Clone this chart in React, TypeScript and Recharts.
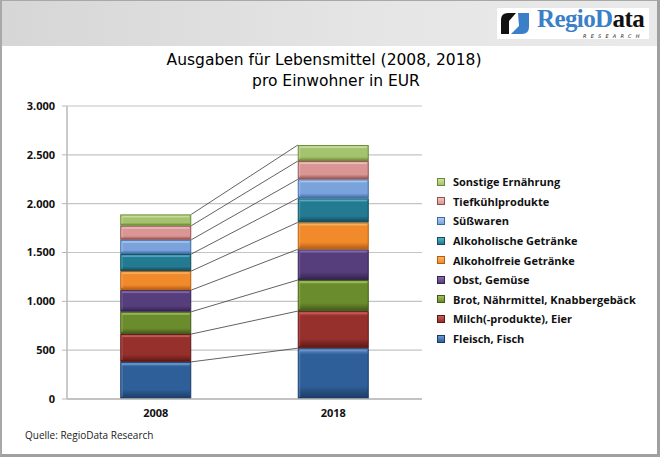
import React from 'react'
import { BarChart, Bar, XAxis, YAxis, CartesianGrid } from 'recharts'

const years = ['2008', '2018']
const fleischFisch = [380, 520]
const milchEier = [285, 380]
const brotNaehrmittel = [228, 318]
const obstGemuese = [222, 314]
const alkoholfrei = [195, 276]
const alkoholisch = [174, 246]
const suesswaren = [146, 195]
const tiefkuehl = [144, 187]
const sonstige = [116, 164]
const yTicks = [0, 500, 1000, 1500, 2000, 2500, 3000]

const seriesNames = [
  'Fleisch, Fisch',
  'Milch(-produkte), Eier',
  'Brot, Nährmittel, Knabbergebäck',
  'Obst, Gemüse',
  'Alkoholfreie Getränke',
  'Alkoholische Getränke',
  'Süßwaren',
  'Tiefkühlprodukte',
  'Sonstige Ernährung',
]
const seriesValues = [
  fleischFisch, milchEier, brotNaehrmittel, obstGemuese, alkoholfrei,
  alkoholisch, suesswaren, tiefkuehl, sonstige,
]
const palette = [
  { main: '#2f5f98', light: '#6a97d0', dark: '#1b3a64' },
  { main: '#96302c', light: '#c95c58', dark: '#5c1816' },
  { main: '#6b8c2c', light: '#9fbf5e', dark: '#42591a' },
  { main: '#563d7c', light: '#8a6cae', dark: '#33234d' },
  { main: '#f08a2b', light: '#fbb166', dark: '#b35d10' },
  { main: '#237a91', light: '#55b3cc', dark: '#124a59' },
  { main: '#7aa3db', light: '#b0cbef', dark: '#3f69a3' },
  { main: '#d99694', light: '#f0c3c2', dark: '#93504e' },
  { main: '#a5c26f', light: '#cfe2a8', dark: '#6a8935' },
]

const chartData = years.map((year, i) => {
  const row: Record<string, any> = { year }
  seriesNames.forEach((name, k) => { row[name] = seriesValues[k][i] })
  return row
})

const CHART_W = 660
const CHART_H = 457
const MARGIN = { top: 106, right: 238, bottom: 28, left: 0 }
const Y_AXIS_W = 67
const BAND = (CHART_W - MARGIN.left - MARGIN.right - Y_AXIS_W) / years.length

const cumulative = (k: number, i: number) =>
  seriesValues.slice(0, k + 1).reduce((s, arr) => s + arr[i], 0)

const formatThousands = (v: number) =>
  v >= 1000 ? `${Math.floor(v / 1000)}.${String(v % 1000).padStart(3, '0')}` : String(v)

const labelFont = "'Open Sans', sans-serif"

function makeShape(k: number) {
  return (props: any) => {
    const { x, y, width, height, index } = props
    const c = palette[k]
    const own = seriesValues[k][index]
    const ppu = own > 0 ? height / own : 0
    const zeroY = y + height + (cumulative(k, index) - own) * ppu
    let link = null
    if (index === 0 && years.length > 1) {
      const yNext = zeroY - cumulative(k, 1) * ppu
      link = (
        <line x1={x + width} y1={y} x2={x + BAND} y2={yNext} stroke="#3a3a3a" strokeWidth={0.8} />
      )
    }
    return (
      <g>
        <rect x={x + 0.5} y={y + 0.5} width={width - 1} height={Math.max(height - 1, 0)}
          fill={`url(#bevel${k})`} stroke={c.dark} strokeWidth={1} />
        <rect x={x + 2} y={y + 1.5} width={width - 4} height={1.5} fill={c.light} opacity={0.8} />
        <rect x={x + 1} y={y + 2} width={1.5} height={Math.max(height - 4, 0)} fill={c.light} opacity={0.45} />
        {link}
      </g>
    )
  }
}

function LegendList() {
  const order = seriesNames.map((_, k) => k).reverse()
  return (
    <div style={{
      position: 'absolute', left: 437, top: 172, fontFamily: labelFont, fontWeight: 700,
      fontSize: 11, color: '#111', whiteSpace: 'nowrap',
    }}>
      {order.map((k) => {
        const c = palette[k]
        return (
          <div key={seriesNames[k]} style={{ height: 19.6, display: 'flex', alignItems: 'center' }}>
            <span style={{
              display: 'inline-block', width: 6, height: 6, marginRight: 8,
              background: `linear-gradient(${c.light}, ${c.main})`, border: `1px solid ${c.dark}`,
            }} />
            <span>{seriesNames[k]}</span>
          </div>
        )
      })}
    </div>
  )
}

function Logo() {
  return (
    <div style={{ position: 'absolute', left: 497, top: 8, width: 152, height: 31, background: '#fff' }}>
      <svg width={36} height={26} style={{ position: 'absolute', left: 2, top: 2 }}>
        <path d="M2 24 L2 10 Q2 3 9 3 L17 3 L10 11 L10 24 Z" fill="#111" />
        <path d="M19 3 L30 3 L30 17 Q30 24 23 24 L12 24 L20 16 Z" fill="#3b7fc8" />
      </svg>
      <div style={{
        position: 'absolute', left: 40, top: 0, fontFamily: "'Liberation Serif', serif",
        fontWeight: 700, fontSize: 25, letterSpacing: -0.6, lineHeight: '22px', whiteSpace: 'nowrap',
      }}>
        <span style={{ color: '#3b7fc8' }}>RegioD</span><span style={{ color: '#111' }}>ata</span>
      </div>
      <div style={{
        position: 'absolute', left: 86, top: 26, fontFamily: "'DejaVu Sans', sans-serif",
        fontStyle: 'italic', fontSize: 5, lineHeight: '5px', letterSpacing: 4.2, color: '#222',
      }}>RESEARCH</div>
    </div>
  )
}

export default function App() {
  return (
    <div style={{
      position: 'absolute', left: 0, top: 0, width: CHART_W, height: CHART_H,
      background: '#fff', overflow: 'hidden', boxSizing: 'border-box',
    }}>
      <div style={{
        position: 'absolute', left: 0, top: 0, width: CHART_W, height: 46,
        background: 'linear-gradient(90deg, #d6d6d6, #e6e6e6 60%, #e9e9e9)',
      }} />
      <Logo />
      <div style={{
        position: 'absolute', left: 0, top: 0, width: CHART_W, height: CHART_H, boxSizing: 'border-box',
        borderTop: '1px solid #a8a8a8', borderLeft: '2px solid #a8a8a8',
        borderRight: '3px solid #a0a0a0', borderBottom: '3px solid #a0a0a0',
      }} />
      <div style={{
        position: 'absolute', left: 0, top: 50, width: CHART_W, textAlign: 'center',
        fontFamily: "'DejaVu Sans', sans-serif", fontSize: 15.5, color: '#000', lineHeight: '21px',
      }}>
        <div style={{ marginLeft: -12 }}>Ausgaben für Lebensmittel (2008, 2018)</div>
        <div style={{ marginLeft: 12 }}>pro Einwohner in EUR</div>
      </div>
      <div style={{ position: 'absolute', left: 0, top: 0 }}>
        <BarChart width={CHART_W} height={CHART_H} data={chartData} margin={MARGIN} barCategoryGap="30%">
          <defs>
            {palette.map((c, k) => (
              <linearGradient key={k} id={`bevel${k}`} x1="0" y1="0" x2="0" y2="1">
                <stop offset="0%" stopColor={c.light} />
                <stop offset="12%" stopColor={c.main} />
                <stop offset="75%" stopColor={c.main} />
                <stop offset="100%" stopColor={c.dark} />
              </linearGradient>
            ))}
          </defs>
          <CartesianGrid vertical={false} stroke="#c4c4c4" strokeWidth={1.2} />
          <XAxis dataKey="year" axisLine={{ stroke: '#b8b8b8', strokeWidth: 1.5 }} tickLine={false}
            height={30} tickMargin={4}
            tick={{ fontFamily: labelFont, fontWeight: 700, fontSize: 11, fill: '#111' }} />
          <YAxis width={Y_AXIS_W} domain={[0, 3000]} ticks={yTicks} tickFormatter={formatThousands}
            axisLine={{ stroke: '#b8b8b8', strokeWidth: 1.5 }} tickLine={{ stroke: '#b8b8b8' }}
            tickSize={5} tickMargin={7}
            tick={{ fontFamily: labelFont, fontWeight: 700, fontSize: 11, fill: '#111' }} />
          {seriesNames.map((name, k) => (
            <Bar key={name} dataKey={name} stackId="a" fill={palette[k].main}
              shape={makeShape(k)} isAnimationActive={false} />
          ))}
        </BarChart>
      </div>
      <LegendList />
      <div style={{
        position: 'absolute', left: 25, top: 428, fontFamily: labelFont, fontSize: 10,
        color: '#222',
      }}>Quelle: RegioData Research</div>
    </div>
  )
}
